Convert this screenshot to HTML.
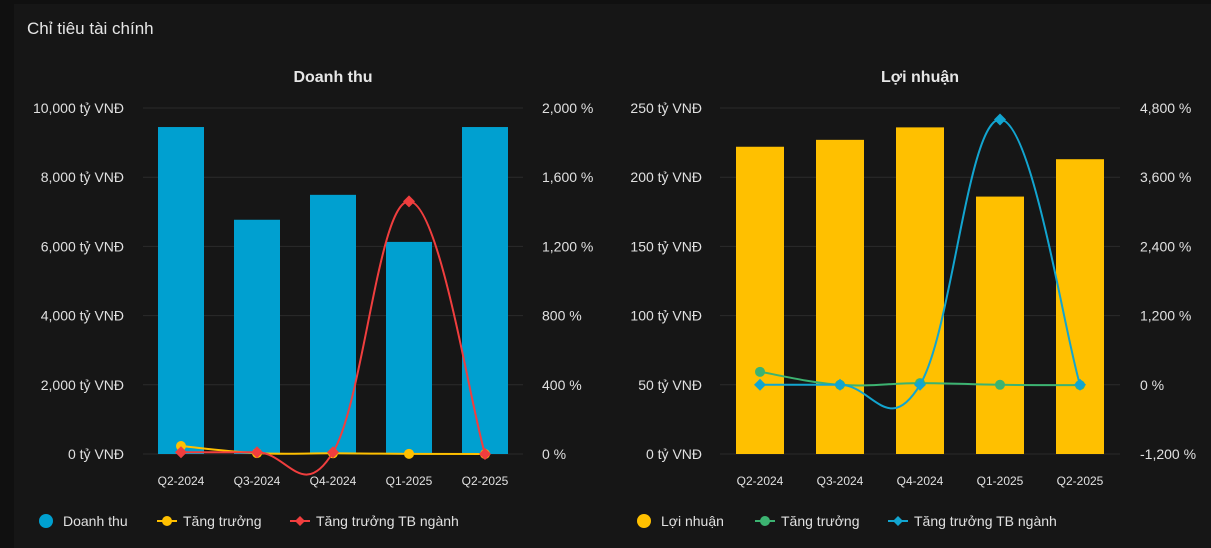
<!DOCTYPE html>
<html><head><meta charset="utf-8"><style>
body{margin:0;width:1211px;height:548px;background:#101010;overflow:hidden;font-family:"Liberation Sans",sans-serif;}
#card{position:absolute;left:14px;top:4px;width:1197px;height:544px;background:#161616;}
#title{position:absolute;left:27px;top:19px;color:#e6e6e6;font-size:17px;}
svg{position:absolute;left:0;top:0;}
</style></head><body>
<div id="card"></div>
<div id="title">Chỉ tiêu tài chính</div>
<svg id="chart" width="1211" height="548"></svg>
<script>
const categories=["Q2-2024","Q3-2024","Q4-2024","Q1-2025","Q2-2025"];
const revenue=[9450,6770,7490,6130,9450];
const revGrowth=[46,5,4,1,0];
const revIndustry=[10,10,10,1460,0];
const revLeftTicks=["0 tỷ VNĐ","2,000 tỷ VNĐ","4,000 tỷ VNĐ","6,000 tỷ VNĐ","8,000 tỷ VNĐ","10,000 tỷ VNĐ"];
const revRightTicks=["0 %","400 %","800 %","1,200 %","1,600 %","2,000 %"];
const profit=[222,227,236,186,213];
const profGrowth=[225,0,30,0,-5];
const profIndustry=[0,0,0,4600,0];
const profLeftTicks=["0 tỷ VNĐ","50 tỷ VNĐ","100 tỷ VNĐ","150 tỷ VNĐ","200 tỷ VNĐ","250 tỷ VNĐ"];
const profRightTicks=["-1,200 %","0 %","1,200 %","2,400 %","3,600 %","4,800 %"];

const NS="http://www.w3.org/2000/svg";
const svg=document.getElementById('chart');
function mk(t,a,p){const e=document.createElementNS(NS,t);for(const k in a)e.setAttribute(k,a[k]);(p||svg).appendChild(e);return e;}
function spline(pts){let d="M"+pts[0][0]+","+pts[0][1];for(let i=0;i<pts.length-1;i++){const p0=pts[Math.max(i-1,0)],p1=pts[i],p2=pts[i+1],p3=pts[Math.min(i+2,pts.length-1)];const t=0.5/3*2*0.6;d+=" C"+(p1[0]+(p2[0]-p0[0])*t)+","+(p1[1]+(p2[1]-p0[1])*t)+" "+(p2[0]-(p3[0]-p1[0])*t)+","+(p2[1]-(p3[1]-p1[1])*t)+" "+p2[0]+","+p2[1];}return d;}

function drawChart(o){
  const top=108,bot=454,L=o.x0,R=o.x1,band=(R-L)/categories.length;
  const yL=v=>bot-(v-o.lmin)/(o.lmax-o.lmin)*(bot-top);
  const yR=v=>bot-(v-o.rmin)/(o.rmax-o.rmin)*(bot-top);
  const xC=i=>L+band*(i+0.5);
  let t=mk('text',{x:(L+R)/2,y:82,fill:'#e6e6e6','font-size':16,'font-weight':'bold','text-anchor':'middle'});t.textContent=o.title;
  
  o.lt.forEach((s,i)=>{const y=bot-i*(bot-top)/(o.lt.length-1);
    const g=mk('line',{x1:L,x2:R,y1:y,y2:y,stroke:'#2b2b2b','stroke-width':1});
    
    const a=mk('text',{x:o.lx,y:y+5,fill:'#e0e0e0','font-size':14,'text-anchor':'end'});a.textContent=s;
    
    const b=mk('text',{x:o.rx,y:y+5,fill:'#e0e0e0','font-size':14,'text-anchor':'start'});b.textContent=o.rt[i];
    });
  o.bars.forEach((v,i)=>{const r=mk('rect',{x:xC(i)-o.bw/2,y:yL(v),width:o.bw,height:yL(o.lmin)-yL(v),fill:o.barColor});
    
    const c=mk('text',{x:xC(i),y:485,fill:'#e0e0e0','font-size':12,'text-anchor':'middle'});c.textContent=categories[i];
    });
  [[o.g,o.gc,'circle'],[o.ind,o.ic,'diamond']].forEach(([arr,col,sh],k)=>{
    const pts=arr.map((v,i)=>[xC(i),yR(v)]);
    const p=mk('path',{d:spline(pts),fill:'none',stroke:col,'stroke-width':2});
    
    pts.forEach(q=>{let m;if(sh=='circle')m=mk('circle',{cx:q[0],cy:q[1],r:5,fill:col});
      else m=mk('path',{d:`M${q[0]},${q[1]-6}L${q[0]+6},${q[1]}L${q[0]},${q[1]+6}L${q[0]-6},${q[1]}Z`,fill:col});
      });});
  // legend
  let lx=o.legX;
  o.leg.forEach((e,i)=>{const y=521;
    if(i==0){const c=mk('circle',{cx:lx+7,cy:y,r:7,fill:e[1]});}
    else{mk('line',{x1:lx-2,x2:lx+18,y1:y,y2:y,stroke:e[1],'stroke-width':2});
      if(i==1)mk('circle',{cx:lx+8,cy:y,r:5,fill:e[1]});
      else mk('path',{d:`M${lx+8},${y-5}L${lx+13},${y}L${lx+8},${y+5}L${lx+3},${y}Z`,fill:e[1]});}
    const tx=mk('text',{x:lx+24,y:y+5,fill:'#e0e0e0','font-size':14});tx.textContent=e[0];
    
    lx+=e[2];});
}
drawChart({title:'Doanh thu',x0:143,x1:523,lmin:0,lmax:10000,rmin:0,rmax:2000,lx:124,rx:542,lt:revLeftTicks,rt:revRightTicks,
  bars:revenue,bw:46,barColor:'#00a0d0',g:revGrowth,gc:'#ffc000',ind:revIndustry,ic:'#f03e3e',
  legX:39,leg:[['Doanh thu','#00a0d0',120],['Tăng trưởng','#ffc000',133],['Tăng trưởng TB ngành','#f03e3e',0]]});
drawChart({title:'Lợi nhuận',x0:720,x1:1120,lmin:0,lmax:250,rmin:-1200,rmax:4800,lx:702,rx:1140,lt:profLeftTicks,rt:profRightTicks,
  bars:profit,bw:48,barColor:'#ffc000',g:profGrowth,gc:'#3cb371',ind:profIndustry,ic:'#12a5d0',
  legX:637,leg:[['Lợi nhuận','#ffc000',120],['Tăng trưởng','#3cb371',133],['Tăng trưởng TB ngành','#12a5d0',0]]});
</script>
</body></html>
